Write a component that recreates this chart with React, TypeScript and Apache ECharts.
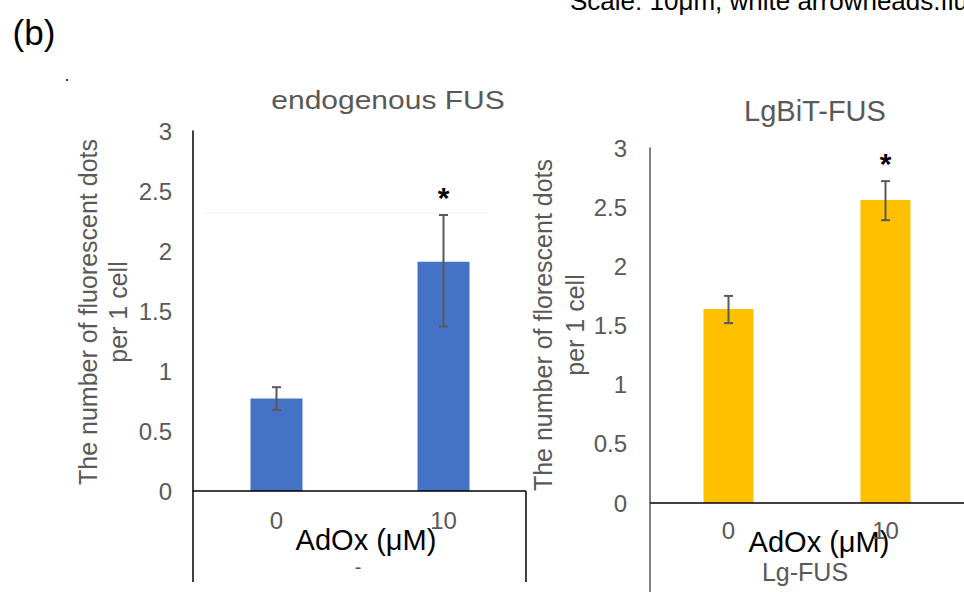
import React, { useEffect, useRef } from "react";
import * as echarts from "echarts";

// ---- data ----
const categories = ["0", "10"];
const endoMeans = [0.77, 1.91];
const endoErrLow = [0.675, 1.37];
const endoErrHigh = [0.865, 2.3];
const lgMeans = [1.64, 2.56];
const lgErrLow = [1.52, 2.39];
const lgErrHigh = [1.75, 2.72];
const significant = [false, true];
const yTicks = { min: 0, max: 3, interval: 0.5 };

const FONT = "Liberation Sans, Arial, sans-serif";
const GREY = "#595959";

function errData(lo: number[], hi: number[]) {
  return categories.map((_, i) => [i, lo[i], hi[i], significant[i] ? 1 : 0]);
}

function errRender(params: any, api: any) {
  const x = api.value(0);
  const pLo = api.coord([x, api.value(1)]);
  const pHi = api.coord([x, api.value(2)]);
  const cap = 4.5;
  const st = { stroke: GREY, lineWidth: 2 };
  const children: any[] = [
    { type: "line", shape: { x1: pLo[0], y1: pLo[1], x2: pHi[0], y2: pHi[1] }, style: st },
    { type: "line", shape: { x1: pHi[0] - cap, y1: pHi[1], x2: pHi[0] + cap, y2: pHi[1] }, style: st },
    { type: "line", shape: { x1: pLo[0] - cap, y1: pLo[1], x2: pLo[0] + cap, y2: pLo[1] }, style: st },
  ];
  if (api.value(3)) {
    children.push({
      type: "text",
      x: pHi[0],
      y: pHi[1] - 18,
      style: {
        text: "*",
        font: `bold 30px ${FONT}`,
        fill: "#000",
        align: "center",
        verticalAlign: "middle",
        textAlign: "center",
        textVerticalAlign: "middle",
      },
    });
  }
  return { type: "group", children };
}

function txt(text: string, x: number, y: number, size: number, color: string, extra: any = {}) {
  return {
    type: "text",
    x,
    y,
    ...extra,
    style: {
      text,
      font: `${size}px ${FONT}`,
      fill: color,
      align: "center",
      verticalAlign: "middle",
      textAlign: "center",
      textVerticalAlign: "middle",
      ...(extra.style || {}),
    },
  };
}

function ln(x1: number, y1: number, x2: number, y2: number, color: string, w = 1.5) {
  return { type: "line", shape: { x1, y1, x2, y2 }, style: { stroke: color, lineWidth: w }, z: 10 };
}

export default function App() {
  const ref = useRef<HTMLDivElement>(null);
  useEffect(() => {
    if (!ref.current) return;
    const chart = echarts.init(ref.current, undefined, { renderer: "svg" });
    const yAxisBase = (color: string, margin: number) => ({
      type: "value",
      min: yTicks.min,
      max: yTicks.max,
      interval: yTicks.interval,
      axisLine: { show: true, lineStyle: { color, width: 1.5 } },
      axisTick: { show: false },
      splitLine: { show: false },
      axisLabel: { color: GREY, fontSize: 24, fontFamily: FONT, margin },
    });
    const xAxisBase = (margin: number) => ({
      type: "category",
      data: categories,
      axisLine: { show: false },
      axisTick: { show: false },
      axisLabel: { color: GREY, fontSize: 24, fontFamily: FONT, margin },
    });
    chart.setOption({
      animation: false,
      backgroundColor: "#fff",
      grid: [
        { left: 193, top: 131, width: 334, height: 360 },
        { left: 650, top: 148, width: 324, height: 355 },
      ],
      xAxis: [
        { ...xAxisBase(17), gridIndex: 0 },
        { ...xAxisBase(15), gridIndex: 1 },
      ],
      yAxis: [
        { ...yAxisBase("#000", 21), gridIndex: 0 },
        { ...yAxisBase(GREY, 23), gridIndex: 1 },
      ],
      series: [
        {
          type: "bar",
          xAxisIndex: 0,
          yAxisIndex: 0,
          data: endoMeans,
          barWidth: 52,
          itemStyle: { color: "#4472C4" },
        },
        {
          type: "bar",
          xAxisIndex: 1,
          yAxisIndex: 1,
          data: lgMeans,
          barWidth: 50,
          itemStyle: { color: "#FFC000" },
        },
        {
          type: "custom",
          xAxisIndex: 0,
          yAxisIndex: 0,
          data: errData(endoErrLow, endoErrHigh),
          renderItem: errRender,
          z: 5,
        },
        {
          type: "custom",
          xAxisIndex: 1,
          yAxisIndex: 1,
          data: errData(lgErrLow, lgErrHigh),
          renderItem: errRender,
          z: 5,
        },
      ],
      graphic: [
        // header texts
        txt("(b)", 34, 32, 35, "#000"),
        {
          type: "text",
          x: 570,
          y: 1,
          style: {
            text: "Scale: 10μm, white arrowheads.fluorescent dots",
            font: `26px ${FONT}`,
            fill: "#000",
            align: "left",
            verticalAlign: "middle",
            textAlign: "left",
            textVerticalAlign: "middle",
          },
        },
        { type: "rect", shape: { x: 66, y: 79, width: 2, height: 2 }, style: { fill: "#444" } },
        // titles
        txt("endogenous FUS", 388, 100, 25, GREY, { scaleX: 1.2 }),
        txt("LgBiT-FUS", 815, 111, 29, GREY),
        // y axis titles
        txt("The number of fluorescent dots\nper 1 cell", 103, 312, 25, GREY, {
          rotation: Math.PI / 2,
          style: { lineHeight: 30 },
        }),
        txt("The number of florescent dots\nper 1 cell", 559, 325, 25, GREY, {
          rotation: Math.PI / 2,
          style: { lineHeight: 32 },
        }),
        // axis baselines and panel frame
        ln(193, 491, 526, 491, "#000"),
        ln(193, 491, 193, 582, "#000"),
        ln(526, 491, 526, 582, "#000"),
        ln(650, 503, 964, 503, "#000"),
        ln(650, 503, 650, 592, GREY),
        ln(203, 213, 487, 213, "#f0f0f0", 1),
        // x axis names
        txt("AdOx (μM)", 366, 540, 29, "#000"),
        txt("-", 358, 567, 20, GREY),
        txt("AdOx (μM)", 819, 542, 29, "#000"),
        txt("Lg-FUS", 805, 572, 25, GREY),
      ],
    });
    return () => chart.dispose();
  }, []);
  return (
    <div
      ref={ref}
      style={{ position: "fixed", left: 0, top: 0, width: 964, height: 592 }}
    />
  );
}
